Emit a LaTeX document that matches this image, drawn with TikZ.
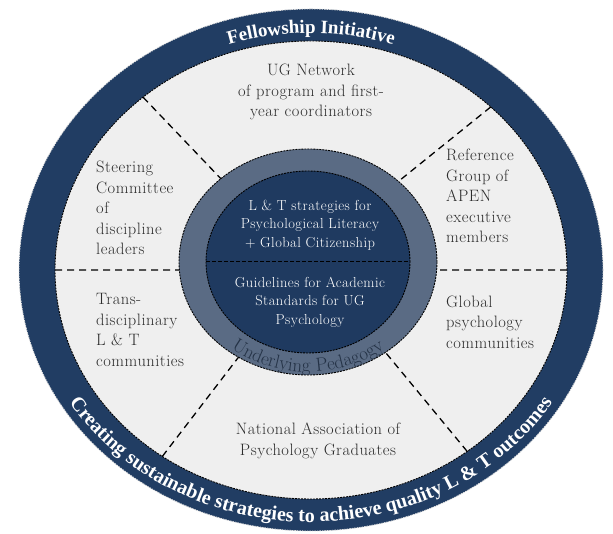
\documentclass[tikz,border=0pt]{standalone}
\usepackage{fontspec}
\setmainfont{Latin Modern Roman}
\newfontfamily\ringfamily{Liberation Serif}
\usetikzlibrary{calc,decorations.text}

\definecolor{ringblue}{RGB}{33,61,99}
\definecolor{coreblue}{RGB}{31,58,96}
\definecolor{slate}{RGB}{90,107,132}
\definecolor{paper}{RGB}{239,239,239}
\definecolor{bodytext}{RGB}{45,45,45}
\definecolor{pedagogy}{RGB}{36,50,70}

\begin{document}
\begin{tikzpicture}[x=1pt,y=1pt,
  divider/.style={draw=black,line width=1.3pt,dash pattern=on 7pt off 5pt},
  rim/.style={draw=black,line width=0.9pt,dash pattern=on 2pt off 1pt},
  outerlabel/.style={text=bodytext,font=\fontsize{16.5}{20.5}\selectfont\addfontfeatures{LetterSpace=3},inner sep=0pt},
  innerlabel/.style={text=white,font=\fontsize{14.5}{18.5}\selectfont\addfontfeatures{LetterSpace=3},inner sep=0pt,align=center}]
\useasboundingbox (0,0) rectangle (613,534);
\fill[white] (0,0) rectangle (613,534);

% centres of the outer rings and of the core
\coordinate (O) at (311,264);
\coordinate (G) at (308,272);

% outer blue ring and light field
\fill[ringblue] (O) ellipse [x radius=292pt, y radius=261pt];
\draw[white!75!gray,line width=0.8pt,dash pattern=on 1.5pt off 1pt] (O) ellipse [x radius=292pt, y radius=261pt];
\fill[paper] (O) ellipse [x radius=256pt, y radius=229pt];
\draw[rim] (O) ellipse [x radius=256pt, y radius=229pt];

% dividers between the six partner sectors
\coordinate (ulo) at ($(O)+(131:256pt and 229pt)$);
\coordinate (uli) at ($(G)+(132.5:129pt and 113pt)$);
\coordinate (uro) at ($(O)+(45.4:256pt and 229pt)$);
\coordinate (uri) at ($(G)+(45.5:129pt and 113pt)$);
\coordinate (llo) at ($(O)+(234.5:256pt and 229pt)$);
\coordinate (lli) at ($(G)+(237.4:129pt and 113pt)$);
\coordinate (lro) at ($(O)+(307.6:256pt and 229pt)$);
\coordinate (lri) at ($(G)+(306.9:129pt and 113pt)$);
\coordinate (lo) at ($(O)+(180:256pt and 229pt)$);
\coordinate (li) at ($(G)+(184.06:129pt and 113pt)$);
\coordinate (ro) at ($(O)+(0:256pt and 229pt)$);
\coordinate (ri) at ($(G)+(-4.06:129pt and 113pt)$);
\draw[divider] (ulo) -- (uli);
\draw[divider] (uro) -- (uri);
\draw[divider] (llo) -- (lli);
\draw[divider] (lro) -- (lri);
\draw[divider] (lo) -- (li);
\draw[divider] (ro) -- (ri);

% pedagogy ring and core
\fill[slate] (G) ellipse [x radius=129pt, y radius=113pt];
\draw[rim] (G) ellipse [x radius=129pt, y radius=113pt];
\fill[coreblue] (G) ellipse [x radius=102pt, y radius=91pt];
\draw[rim] (G) ellipse [x radius=102pt, y radius=91pt];
\coordinate (cl) at ($(G)+(180:102pt and 91pt)$);
\coordinate (cr) at ($(G)+(0:102pt and 91pt)$);
\draw[rim,line width=1pt,dash pattern=on 4pt off 2pt] (cl) -- (cr);

% core texts
\node[innerlabel] (lt) at (310,309) {L \& T strategies for\\Psychological Literacy\\+ Global Citizenship};
\node[innerlabel] (gas) at (310,232) {Guidelines for Academic\\Standards for UG\\Psychology};

% sector texts
\node[outerlabel,align=center] (ugn) at (311,442) {UG Network\\of program and first-\\year coordinators};
\node[outerlabel,align=left,anchor=west] (sc) at (96,326) {Steering\\Committee\\of\\discipline\\leaders};
\node[outerlabel,align=left,anchor=west] (td) at (96,204) {Trans-\\disciplinary\\L \& T\\communities};
\node[outerlabel,align=left,anchor=west] (rg) at (446,338) {Reference\\Group of\\APEN\\executive\\members};
\node[outerlabel,align=left,anchor=west] (gp) at (446,212) {Global\\psychology\\communities};
\node[outerlabel,align=center] (nap) at (318,93) {National Association of\\Psychology Graduates};

% curved ring captions
\path[decorate,decoration={text along path,text align=center,text color=white,
  text={|\ringfamily\bfseries\fontsize{19}{19}\selectfont|Fellowship Initiative}}]
  ($(O)+(135:265pt and 237pt)$) arc[start angle=135,end angle=45,x radius=265pt,y radius=237pt];
\path[decorate,decoration={text along path,text align=center,text color=white,
  text={|\ringfamily\bfseries\fontsize{20}{20}\selectfont|Creating sustainable strategies to achieve quality L {\&} T outcomes}}]
  ($(O)+(195:284pt and 252pt)$) arc[start angle=195,end angle=345,x radius=284pt,y radius=252pt];
\path[decorate,decoration={text along path,text align=center,text color=pedagogy,
  text={|\fontsize{19}{19}\selectfont|Underlying Pedagogy}}]
  ($(G)+(200:123pt and 110pt)$) arc[start angle=200,end angle=340,x radius=123pt,y radius=110pt];
\end{tikzpicture}
\end{document}
